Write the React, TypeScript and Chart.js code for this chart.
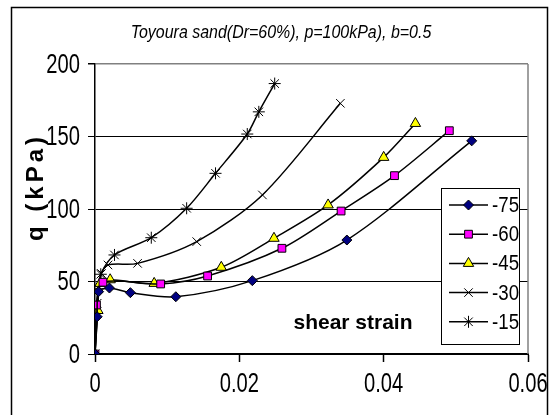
import React, { useEffect, useRef } from "react";
import { Chart, registerables } from "chart.js";
Chart.register(...registerables);

const chartTitle = "Toyoura sand(Dr=60%), p=100kPa), b=0.5";
const yTitle = "q (kPa)";
const xTitle = "shear strain";
const seriesNames = ["-75", "-60", "-45", "-30", "-15"];
const xTicks = [0, 0.02, 0.04, 0.06];
const yTicks = [0, 50, 100, 150, 200];

const strain75 = [0, 0.0003, 0.0005, 0.002, 0.0049, 0.0112, 0.0218, 0.0349, 0.0522];
const q75 = [0, 25.7, 43, 45.5, 42.3, 39.5, 50.6, 78.6, 147];
const strain60 = [0, 0.0002, 0.0011, 0.0091, 0.0156, 0.0259, 0.0341, 0.0415, 0.0491];
const q60 = [0, 33.8, 49.5, 48.3, 53.8, 72.9, 98.6, 123, 154];
const strain45 = [0, 0.0004, 0.0007, 0.0021, 0.0082, 0.0175, 0.0248, 0.0323, 0.04, 0.0444];
const q45 = [0, 30, 48.7, 51.2, 48.7, 59.8, 79.8, 102.8, 135.6, 159];
const strain30 = [0, 0.0003, 0.0009, 0.0018, 0.0059, 0.0141, 0.0232, 0.034];
const q30 = [0, 35, 55.5, 61.4, 62.5, 77.5, 109.7, 172.9];
const strain15 = [0, 0.0005, 0.0008, 0.0027, 0.0078, 0.0127, 0.0167, 0.0211, 0.0227, 0.0249];
const q15 = [0, 45, 55, 68.3, 80.2, 100.5, 124.6, 151.7, 167, 186.5];

const SANS = '"Liberation Sans", Arial, sans-serif';

type Style = { shape: string; fill: string; r: number };
const styles: Style[] = [
  { shape: "rectRot", fill: "#000080", r: 5 },
  { shape: "rect", fill: "#FF00FF", r: 5.5 },
  { shape: "triangle", fill: "#FFFF00", r: 6 },
  { shape: "crossRot", fill: "#000000", r: 6 },
  { shape: "star", fill: "#000000", r: 6 },
];

const seriesX = [strain75, strain60, strain45, strain30, strain15];
const seriesY = [q75, q60, q45, q30, q15];

function drawMarker(ctx: CanvasRenderingContext2D, s: Style, x: number, y: number) {
  const r = s.r;
  ctx.save();
  ctx.beginPath();
  ctx.fillStyle = s.fill;
  ctx.strokeStyle = "#000";
  ctx.lineWidth = 1;
  if (s.shape === "rectRot") {
    ctx.moveTo(x - r, y);
    ctx.lineTo(x, y - r);
    ctx.lineTo(x + r, y);
    ctx.lineTo(x, y + r);
    ctx.closePath();
    ctx.fill();
    ctx.stroke();
  } else if (s.shape === "rect") {
    const h = r * Math.SQRT1_2;
    ctx.rect(x - h, y - h, 2 * h, 2 * h);
    ctx.fill();
    ctx.stroke();
  } else if (s.shape === "triangle") {
    ctx.moveTo(x, y - r);
    ctx.lineTo(x + r * 0.866, y + r * 0.5);
    ctx.lineTo(x - r * 0.866, y + r * 0.5);
    ctx.closePath();
    ctx.fill();
    ctx.stroke();
  } else if (s.shape === "crossRot") {
    const d = r * Math.SQRT1_2;
    ctx.moveTo(x - d, y - d);
    ctx.lineTo(x + d, y + d);
    ctx.moveTo(x + d, y - d);
    ctx.lineTo(x - d, y + d);
    ctx.stroke();
  } else {
    const d = r * Math.SQRT1_2;
    ctx.moveTo(x - d, y - d);
    ctx.lineTo(x + d, y + d);
    ctx.moveTo(x + d, y - d);
    ctx.lineTo(x - d, y + d);
    ctx.moveTo(x, y - r);
    ctx.lineTo(x, y + r);
    ctx.stroke();
  }
  ctx.restore();
}

function squeezedText(
  ctx: CanvasRenderingContext2D,
  text: string,
  x: number,
  y: number,
  sx: number,
  align: CanvasTextAlign
) {
  ctx.save();
  ctx.translate(x, y);
  ctx.scale(sx, 1);
  ctx.textAlign = align;
  ctx.textBaseline = "middle";
  ctx.fillText(text, 0, 0);
  ctx.restore();
}

const decoPlugin = {
  id: "deco",
  beforeDraw(chart: any) {
    const ctx = chart.ctx as CanvasRenderingContext2D;
    ctx.save();
    ctx.fillStyle = "#fff";
    ctx.fillRect(0, 0, chart.width, chart.height);
    ctx.restore();
  },
  beforeDatasetsDraw(chart: any) {
    const ctx = chart.ctx as CanvasRenderingContext2D;
    const { right, top, bottom } = chart.chartArea;
    ctx.save();
    ctx.strokeStyle = "#808080";
    ctx.lineWidth = 1.5;
    ctx.beginPath();
    ctx.moveTo(right, top);
    ctx.lineTo(right, bottom);
    ctx.stroke();
    ctx.restore();
  },
  afterDraw(chart: any) {
    const ctx = chart.ctx as CanvasRenderingContext2D;
    const xs = chart.scales.x;
    const ys = chart.scales.y;
    ctx.save();
    // outer frame
    ctx.strokeStyle = "#000";
    ctx.lineWidth = 1.5;
    ctx.strokeRect(11.5, 7.5, 536, 420);
    ctx.fillStyle = "#000";
    // tick labels
    ctx.font = `28px ${SANS}`;
    yTicks.forEach((v) => {
      squeezedText(ctx, String(v), 80, ys.getPixelForValue(v) + 1, 0.72, "right");
    });
    xTicks.forEach((v) => {
      squeezedText(ctx, String(v), xs.getPixelForValue(v), 384, 0.72, "center");
    });
    // title
    ctx.font = `italic 19px ${SANS}`;
    squeezedText(ctx, chartTitle, 281, 33, 0.84, "center");
    // y title
    ctx.save();
    ctx.translate(36, 187);
    ctx.rotate(-Math.PI / 2);
    ctx.font = `bold 24px ${SANS}`;
    (ctx as any).letterSpacing = "4px";
    ctx.textAlign = "center";
    ctx.textBaseline = "middle";
    ctx.fillText(yTitle, 0, 0);
    ctx.restore();
    // x title inside plot
    ctx.font = `bold 21px ${SANS}`;
    squeezedText(ctx, xTitle, 353, 323, 1, "center");
    // legend
    ctx.fillStyle = "#fff";
    ctx.fillRect(441, 188, 78, 156);
    ctx.strokeStyle = "#000";
    ctx.lineWidth = 1;
    ctx.strokeRect(441.5, 188.5, 78, 156);
    ctx.font = `22px ${SANS}`;
    seriesNames.forEach((name, i) => {
      const y = 205 + i * 29.2;
      ctx.strokeStyle = "#000";
      ctx.lineWidth = 1.5;
      ctx.beginPath();
      ctx.moveTo(449, y);
      ctx.lineTo(488, y);
      ctx.stroke();
      drawMarker(ctx, styles[i], 468.5, y);
      ctx.fillStyle = "#000";
      squeezedText(ctx, name, 492, y + 1, 0.85, "left");
    });
    ctx.restore();
  },
};

export default function App() {
  const ref = useRef<HTMLCanvasElement | null>(null);
  useEffect(() => {
    document.body.style.margin = "0";
    const canvas = ref.current!;
    const datasets = seriesNames.map((name, i) => ({
      label: name,
      data: seriesX[i].map((x, j) => ({ x, y: seriesY[i][j] })),
      borderColor: "#000",
      borderWidth: 1.5,
      backgroundColor: styles[i].fill,
      pointStyle: styles[i].shape,
      pointRadius: styles[i].r,
      pointBorderColor: "#000",
      pointBackgroundColor: styles[i].fill,
      pointBorderWidth: 1,
      tension: 0.3,
      showLine: true,
      fill: false,
    }));
    const chart = new Chart(canvas, {
      type: "scatter",
      data: { datasets },
      options: {
        responsive: false,
        animation: false,
        devicePixelRatio: 1,
        layout: { padding: { left: 0, top: 64, right: 23, bottom: 0 } },
        plugins: { legend: { display: false }, title: { display: false }, tooltip: { enabled: false } },
        scales: {
          x: {
            type: "linear",
            min: 0,
            max: 0.06,
            afterBuildTicks: (axis: any) => {
              axis.ticks = xTicks.map((v) => ({ value: v }));
            },
            afterFit: (axis: any) => {
              axis.height = 61;
            },
            ticks: { display: false },
            grid: { drawOnChartArea: false, drawTicks: true, tickLength: 8, tickColor: "#000", tickWidth: 1.5 },
            border: { display: true, color: "#000", width: 2 },
          },
          y: {
            type: "linear",
            min: 0,
            max: 200,
            afterBuildTicks: (axis: any) => {
              axis.ticks = yTicks.map((v) => ({ value: v }));
            },
            afterFit: (axis: any) => {
              axis.width = 95;
            },
            ticks: { display: false },
            grid: {
              color: (c: any) => (c.tick && c.tick.value === 200 ? "#808080" : "#000"),
              lineWidth: (c: any) => (c.tick && c.tick.value === 200 ? 1.5 : 1),
              tickLength: 7,
              tickColor: "#000",
            },
            border: { display: true, color: "#000", width: 1.5 },
          },
        },
      },
      plugins: [decoPlugin],
    } as any);
    return () => chart.destroy();
  }, []);
  return (
    <div style={{ width: 551, height: 415, position: "relative", overflow: "hidden" }}>
      <canvas ref={ref} width={551} height={415} />
    </div>
  );
}
